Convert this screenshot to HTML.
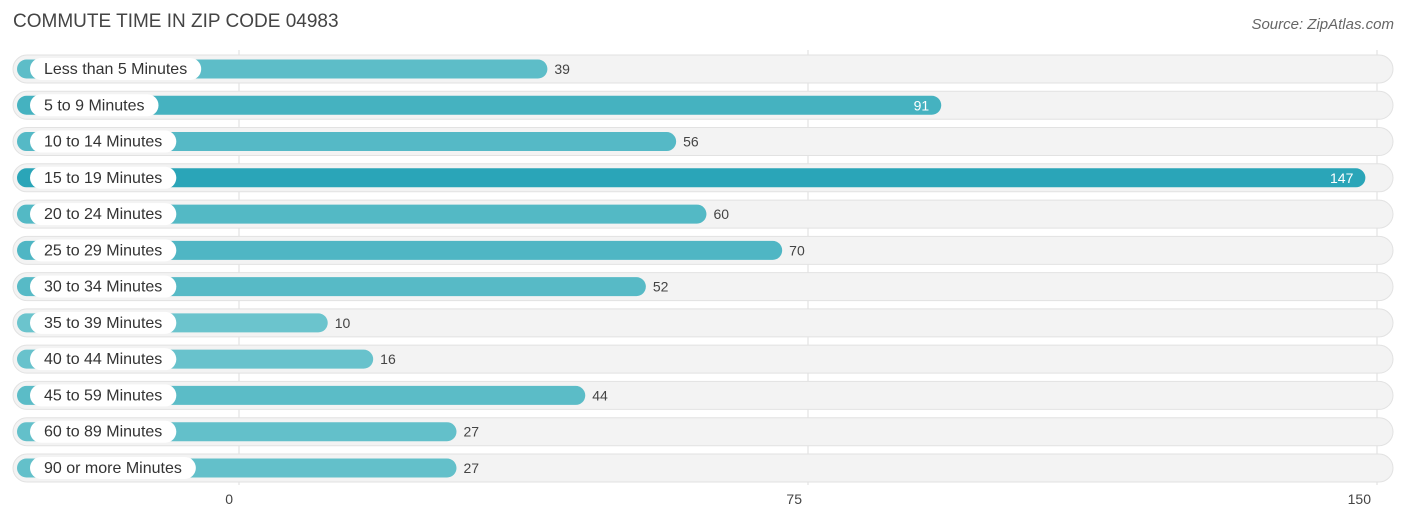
<!DOCTYPE html>
<html><head><meta charset="utf-8"><style>
body{margin:0;width:1406px;height:523px;background:#fff;font-family:"Liberation Sans",sans-serif;overflow:hidden;position:relative}
.t{position:absolute;left:13px;top:11px;font-size:19px;color:#444}
.s{position:absolute;right:12px;top:16px;font-size:15px;color:#666;font-style:italic}
</style></head><body>
<div class="t">COMMUTE TIME IN ZIP CODE 04983</div>
<div class="s">Source: ZipAtlas.com</div>
<svg id="c" width="1406" height="523" style="position:absolute;left:0;top:0"></svg>
<script>
const categories=["Less than 5 Minutes","5 to 9 Minutes","10 to 14 Minutes","15 to 19 Minutes","20 to 24 Minutes","25 to 29 Minutes","30 to 34 Minutes","35 to 39 Minutes","40 to 44 Minutes","45 to 59 Minutes","60 to 89 Minutes","90 or more Minutes"];
const values=[39,91,56,147,60,70,52,10,16,44,27,27];
const ticks=[0,75,150];
const svg=document.getElementById('c');const NS='http://www.w3.org/2000/svg';
function mk(t,a,p){const e=document.createElementNS(NS,t);for(const k in a)e.setAttribute(k,a[k]);(p||svg).appendChild(e);return e;}
const gx=v=>239+v*(1377-239)/150;
const bx=v=>252+v*7.574;
const ry=i=>69+i*36.27;
const maxV=Math.max(...values);
ticks.forEach(t=>{
 const l=mk('line',{x1:gx(t),x2:gx(t),y1:50,y2:485,stroke:'#ddd','stroke-width':1});
 
 
 const tx=mk('text',{x:gx(t)-6,y:504,'font-size':14,fill:'#444','text-anchor':'end'});
 tx.textContent=t;
 
 
});
categories.forEach((c,i)=>{
 const y=ry(i),v=values[i];
 const bg=mk('rect',{x:13,y:y-14,width:1380,height:28,rx:14,fill:'#f3f3f3',stroke:'#e2e2e2'});
 
 
 const f=v/maxV;
 const r=Math.round(112-f*70),g=Math.round(198-f*33),b=Math.round(206-f*22);
 const w=bx(v)-17;
 const bar=mk('rect',{x:17,y:y-9.5,width:w,height:19,rx:9.5,fill:`rgb(${r},${g},${b})`});
 
 
 const pill=mk('rect',{x:30,y:y-11,width:100,height:22,rx:11,fill:'#fff'});
 
 
 const lt=mk('text',{x:44,y:y+5,'font-size':16,fill:'#333'});
 lt.textContent=c;
 
 
 pill.setAttribute('width',lt.getComputedTextLength()+28);
 const inside=v>80;
 const vt=mk('text',{x:inside?bx(v)-12:bx(v)+7,y:y+5,'font-size':14,fill:inside?'#fff':'#444','text-anchor':inside?'end':'start'});
 vt.textContent=v;
 
 
});
</script>
</body></html>
